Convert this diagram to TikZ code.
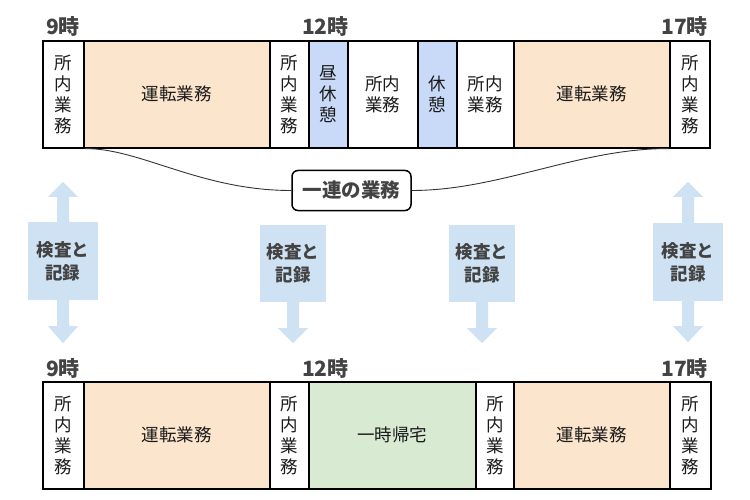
\documentclass[tikz,border=0pt]{standalone}
\usepackage{fontspec}
\setmainfont{Noto Sans CJK JP}
\definecolor{orangecell}{HTML}{FCE5CD}
\definecolor{bluecell}{HTML}{C9DAF8}
\definecolor{greencell}{HTML}{D9EAD3}
\definecolor{arrowfill}{HTML}{CFE2F3}
\definecolor{labelgray}{HTML}{434343}
\definecolor{celltext}{HTML}{1A1A1A}
\tikzset{
  cell/.style={draw=black, line width=1.6pt, minimum height=107pt, inner sep=0pt,
    anchor=north west, align=center, text=celltext,
    font=\fontsize{17.5}{21}\selectfont},
  timelbl/.style={inner sep=0pt, text=labelgray, font=\fontsize{21}{21}\selectfont\bfseries},
  checkbox/.style={fill=arrowfill, inner sep=0pt, align=center, text=labelgray,
    font=\fontsize{17.5}{23}\selectfont\bfseries},
  seqbox/.style={draw=black, line width=1.5pt, rounded corners=6pt, fill=white,
    minimum width=119pt, minimum height=40pt, inner sep=0pt, text=labelgray,
    font=\fontsize{19.5}{20}\selectfont\bfseries},
  curveline/.style={draw=black!80, line width=0.9pt}
}
\begin{document}
\begin{tikzpicture}[x=1pt,y=-1pt]
\useasboundingbox[fill=white] (0,0) rectangle (750,500);

% ---------- top row ----------
\node[cell, minimum width=41pt] (t1) at (42,40) {所\\内\\業\\務};
\node[cell, minimum width=186pt, fill=orangecell] (t2) at (83,40) {運転業務};
\node[cell, minimum width=39pt] (t3) at (269,40) {所\\内\\業\\務};
\node[cell, minimum width=39pt, fill=bluecell] (t4) at (308,40) {昼\\休\\憩};
\node[cell, minimum width=70pt] (t5) at (347,40) {所内\\業務};
\node[cell, minimum width=39pt, fill=bluecell] (t6) at (417,40) {休\\憩};
\node[cell, minimum width=57pt] (t7) at (456,40) {所内\\業務};
\node[cell, minimum width=156pt, fill=orangecell] (t8) at (513,40) {運転業務};
\node[cell, minimum width=40pt] (t9) at (669,40) {所\\内\\業\\務};

\node[timelbl, anchor=base west] (tl9) at (46,35) {9時};
\node[timelbl, anchor=base west] (tl12) at (302,35) {12時};
\node[timelbl, anchor=base east] (tl17) at (708,35) {17時};

% ---------- series brace ----------
\node[seqbox] (seq) at (351.5,190.5) {一連の業務};
\draw[curveline] (t1.south east) .. controls (140,148) and (200,190.5) .. (seq.west);
\draw[curveline] (seq.east) .. controls (500,190.5) and (580,148) .. (t9.south west);

% ---------- inspection arrows ----------
\node[checkbox, minimum width=70pt, minimum height=78pt] (k1) at (63,261) {検査と\\記録};
\node[checkbox, minimum width=66pt, minimum height=77pt] (k2) at (293,263.5) {検査と\\記録};
\node[checkbox, minimum width=66pt, minimum height=77pt] (k3) at (482,263.5) {検査と\\記録};
\node[checkbox, minimum width=70pt, minimum height=78pt] (k4) at (688,262) {検査と\\記録};

\fill[arrowfill, shift={(k1.north)}] (-6,0.5) -- (-6,-25) -- (-15,-25) -- (0,-40) -- (15,-25) -- (6,-25) -- (6,0.5) -- cycle;
\fill[arrowfill, shift={(k1.south)}] (-6,-0.5) -- (-6,26) -- (-15,26) -- (0,43) -- (15,26) -- (6,26) -- (6,-0.5) -- cycle;
\fill[arrowfill, shift={(k2.south)}] (-6,-0.5) -- (-6,26) -- (-15,26) -- (0,41) -- (15,26) -- (6,26) -- (6,-0.5) -- cycle;
\fill[arrowfill, shift={(k3.south)}] (-6,-0.5) -- (-6,26) -- (-15,26) -- (0,41) -- (15,26) -- (6,26) -- (6,-0.5) -- cycle;
\fill[arrowfill, shift={(k4.north)}] (-6,0.5) -- (-6,-26) -- (-15,-26) -- (0,-41) -- (15,-26) -- (6,-26) -- (6,0.5) -- cycle;
\fill[arrowfill, shift={(k4.south)}] (-6,-0.5) -- (-6,25) -- (-15,25) -- (0,41) -- (15,25) -- (6,25) -- (6,-0.5) -- cycle;

% ---------- bottom row ----------
\node[cell, minimum width=41pt] (b1) at (42,381) {所\\内\\業\\務};
\node[cell, minimum width=186pt, fill=orangecell] (b2) at (83,381) {運転業務};
\node[cell, minimum width=39pt] (b3) at (269,381) {所\\内\\業\\務};
\node[cell, minimum width=167pt, fill=greencell] (b4) at (308,381) {一時帰宅};
\node[cell, minimum width=38pt] (b5) at (475,381) {所\\内\\業\\務};
\node[cell, minimum width=156pt, fill=orangecell] (b6) at (513,381) {運転業務};
\node[cell, minimum width=41pt] (b7) at (669,381) {所\\内\\業\\務};

\node[timelbl, anchor=base west] (bl9) at (46,376) {9時};
\node[timelbl, anchor=base west] (bl12) at (302,376) {12時};
\node[timelbl, anchor=base east] (bl17) at (708,376) {17時};
\end{tikzpicture}
\end{document}
